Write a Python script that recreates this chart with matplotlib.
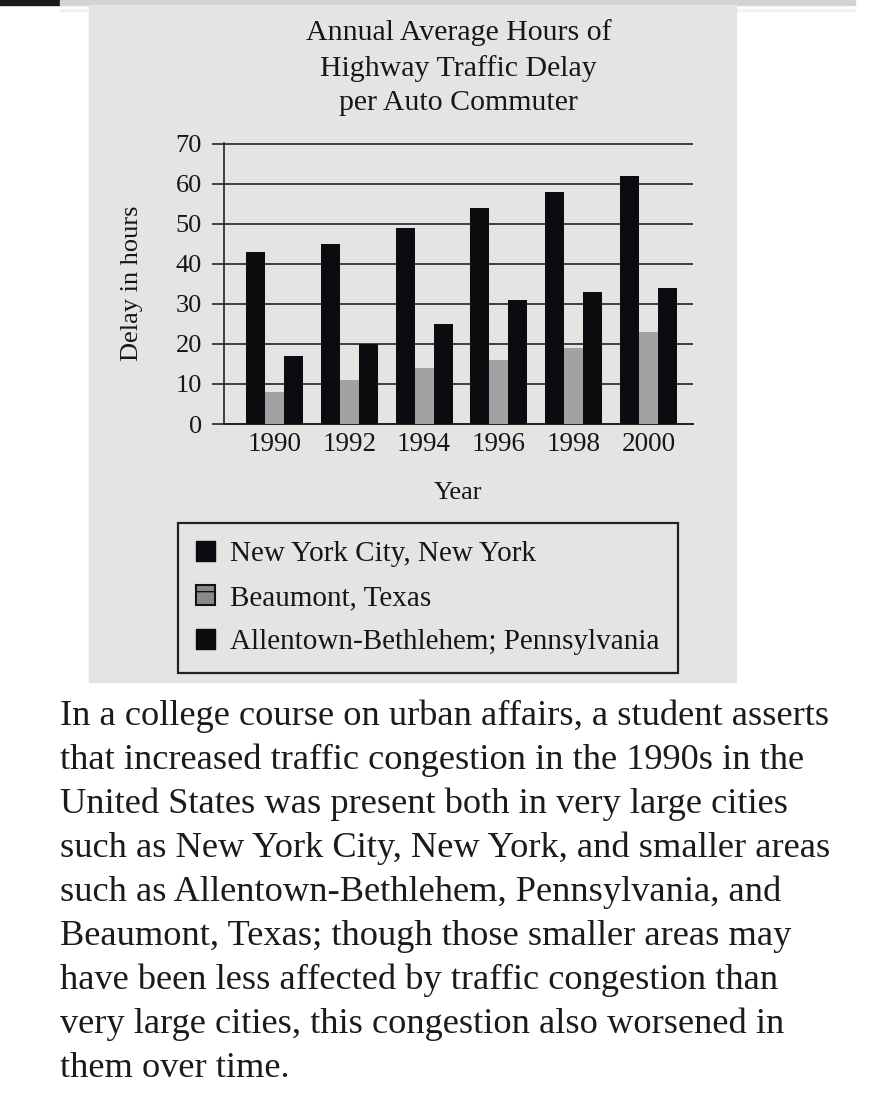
import numpy as np
import matplotlib.pyplot as plt
from matplotlib.patches import Rectangle, Patch

# data (hours of delay per auto commuter)
years = ['1990', '1992', '1994', '1996', '1998', '2000']
nyc = [43, 45, 49, 54, 58, 62]
beaumont = [8, 11, 14, 16, 19, 23]
allentown = [17, 20, 25, 31, 33, 34]
series_names = ['New York City, New York', 'Beaumont, Texas',
                'Allentown-Bethlehem; Pennsylvania']
yticks = [0, 10, 20, 30, 40, 50, 60, 70]

paragraph = [
    "In a college course on urban affairs, a student asserts",
    "that increased traffic congestion in the 1990s in the",
    "United States was present both in very large cities",
    "such as New York City, New York, and smaller areas",
    "such as Allentown-Bethlehem, Pennsylvania, and",
    "Beaumont, Texas; though those smaller areas may",
    "have been less affected by traffic congestion than",
    "very large cities, this congestion also worsened in",
    "them over time.",
]

W, H = 884, 1098
plt.rcParams['font.family'] = ['Liberation Serif', 'DejaVu Serif']
ink = '#161616'
panel = '#e4e4e2'
dark = '#0b0b10'
gray = '#a2a2a2'

fig = plt.figure(figsize=(W/100, H/100), dpi=100)
fig.patch.set_facecolor('white')

def frect(x0, y0, x1, y1, **kw):
    # rectangle in pixel coords (top-left origin)
    fig.patches.append(Rectangle((x0/W, 1-y1/H), (x1-x0)/W, (y1-y0)/H,
                                 transform=fig.transFigure, zorder=-5, **kw))

frect(0, 0, 60, 5, color='#1c1a1f')
frect(60, 0, 855, 5, color='#d3d3d3')
frect(60, 9, 855, 11, color='#f2f2f2')
frect(89, 5, 736, 682, color=panel)

ax = fig.add_axes([224/W, 1-424/H, (693-224)/W, (424-143)/H])
ax.set_facecolor('none')

x = np.arange(len(years))
w = 0.254
ax.bar(x - w, nyc, w, color=dark, zorder=3, label=series_names[0])
ax.bar(x, beaumont, w, color=gray, zorder=3, label=series_names[1])
ax.bar(x + w, allentown, w, color=dark, zorder=3, label=series_names[2])

ax.set_xlim(-0.675, 5.595)
ax.set_ylim(0, 70.2)
ax.set_yticks(yticks)
ax.set_xticks(x)
ax.set_xticklabels(years)
ax.yaxis.grid(True, color='#222222', linewidth=1.2)
ax.set_axisbelow(True)
for s in ['top', 'right']:
    ax.spines[s].set_visible(False)
ax.spines['left'].set_color('#222222')
ax.spines['left'].set_linewidth(1.2)
ax.spines['bottom'].set_color('#222222')
ax.spines['bottom'].set_linewidth(1.4)
ax.tick_params(axis='y', direction='out', length=9, width=1.2, color='#222222',
               pad=7, labelsize=19, labelcolor=ink)
ax.tick_params(axis='x', length=0, pad=6, labelsize=19.5, labelcolor=ink)

ax.set_title("Annual Average Hours of\nHighway Traffic Delay\nper Auto Commuter",
             fontsize=21.5, color=ink, linespacing=1.4, pad=24)
ax.set_ylabel('Delay in hours', fontsize=19, color=ink, labelpad=23)
ax.set_xlabel('Year', fontsize=19, color=ink, labelpad=18)

handles = [Patch(facecolor=dark, edgecolor=dark),
           Patch(facecolor='#8a8a8a', edgecolor='#111111', hatch='-', linewidth=1.5),
           Patch(facecolor=dark, edgecolor=dark)]
leg = ax.legend(handles, series_names, loc='upper left',
                bbox_to_anchor=(178/W, 1-523/H, 500/W, 0.0),
                bbox_transform=fig.transFigure, mode='expand',
                fontsize=21, frameon=True, fancybox=False, framealpha=1,
                facecolor=panel, edgecolor='#222222', borderaxespad=0,
                borderpad=0.6, labelspacing=0.62, handlelength=0.68,
                handleheight=0.68, handletextpad=0.5)
leg.get_frame().set_linewidth(1.6)
for t in leg.get_texts():
    t.set_color(ink)

for i, line in enumerate(paragraph):
    fig.text(60/W, 1-(725 + 44*i)/H, line, fontsize=26.2, color='#1b1b1b',
             va='baseline', ha='left')

fig.savefig('out.png', dpi=100, facecolor=fig.get_facecolor())
